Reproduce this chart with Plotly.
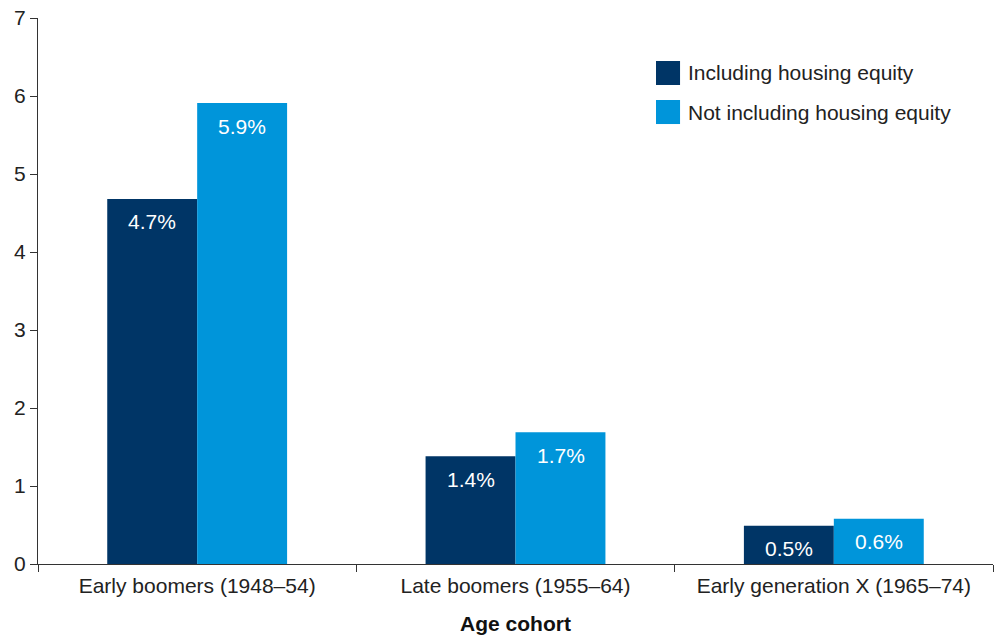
import plotly.graph_objects as go

categories = ["Early boomers (1948–54)", "Late boomers (1955–64)", "Early generation X (1965–74)"]
including = [4.68, 1.38, 0.49]
not_including = [5.91, 1.69, 0.58]
including_labels = ["4.7%", "1.4%", "0.5%"]
not_including_labels = ["5.9%", "1.7%", "0.6%"]
series_names = ["Including housing equity", "Not including housing equity"]
y_ticks = [0, 1, 2, 3, 4, 5, 6, 7]

DARK = "#003566"
LIGHT = "#0095DA"
FONT = "Liberation Sans, Arial, Helvetica, sans-serif"
FS = 21

fig = go.Figure()
fig.add_trace(go.Bar(x=categories, y=including, name=series_names[0],
                     marker_color=DARK, marker_line_width=0, showlegend=False))
fig.add_trace(go.Bar(x=categories, y=not_including, name=series_names[1],
                     marker_color=LIGHT, marker_line_width=0, showlegend=False))

# value labels inside bars, near the top
for vals, labels, shift in [(including, including_labels, -45), (not_including, not_including_labels, 45)]:
    for c, v, t in zip(categories, vals, labels):
        fig.add_annotation(x=c, y=v, text=t, showarrow=False, xshift=shift, yshift=-23,
                           xanchor="center", yanchor="middle",
                           font=dict(size=FS, color="white", family=FONT))

# custom legend (large swatches)
legend_y = [0.8993, 0.8278]
for i, (name, col) in enumerate(zip(series_names, [DARK, LIGHT])):
    fig.add_shape(type="rect", xref="paper", yref="paper",
                  x0=0.6471, x1=0.6723, y0=legend_y[i] - 0.022, y1=legend_y[i] + 0.022,
                  fillcolor=col, line_width=0)
    fig.add_annotation(xref="paper", yref="paper", x=0.6785, y=legend_y[i],
                       text=name, showarrow=False, xanchor="left", yanchor="middle",
                       font=dict(size=FS, color="#222", family=FONT))

fig.update_layout(
    width=996, height=635,
    margin=dict(l=38, r=3, t=18, b=71),
    paper_bgcolor="white", plot_bgcolor="white",
    barmode="group", bargap=0.435, bargroupgap=0,
    font=dict(family=FONT, size=FS, color="#222"),
    showlegend=False,
)
fig.update_xaxes(
    automargin=False,
    showline=True, linecolor="#333", linewidth=1.2,
    ticks="outside", tickson="boundaries", ticklen=7, tickcolor="#333",
    ticklabelstandoff=3,
    tickfont=dict(size=FS, color="#222", family=FONT),
    title=dict(text="<b>Age cohort</b>", font=dict(size=FS, color="#111", family=FONT), standoff=22),
    showgrid=False,
)
fig.update_yaxes(
    automargin=False,
    range=[0, 7], tickvals=y_ticks, showline=True, linecolor="#333", linewidth=1.2,
    ticks="outside", ticklen=7, tickcolor="#333", showgrid=False, zeroline=False,
    tickfont=dict(size=FS, color="#222", family=FONT),
)

fig.write_html("out.html", config={"displayModeBar": False},
               post_script="document.body.style.margin='0';")
